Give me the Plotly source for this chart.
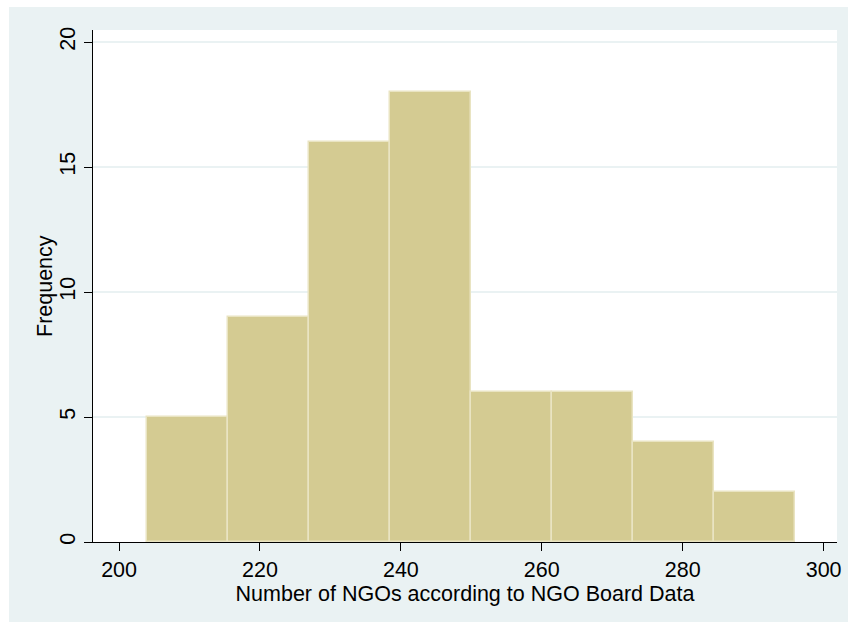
import numpy as np
import plotly.graph_objects as go

# Histogram of NGO counts: 8 equal-width bins starting at 204
bin_start = 204.0
bin_width = 11.5
counts = [5, 9, 16, 18, 6, 6, 4, 2]

x_ticks = [200, 220, 240, 260, 280, 300]
y_ticks = [0, 5, 10, 15, 20]

centers = bin_start + bin_width * (np.arange(len(counts)) + 0.5)

W, H = 848, 622
L, R, T, B = 93, 11, 30, 80
pw, ph = W - L - R, H - T - B

BG = "#EAF2F3"
FILL = "#D4CB92"
EDGE = "#E9E4C2"
FONT = "Liberation Sans, Arial, sans-serif"
FS = 21.5

fig = go.Figure()
fig.add_trace(go.Bar(
    x=centers, y=counts, width=bin_width,
    marker=dict(color=FILL, line=dict(color=EDGE, width=1.5)),
    hoverinfo="skip",
))


def px_x(p):
    return (p - L) / pw


def px_y(p):
    return (H - B - p) / ph


# white margin strips around the tinted panel
for x0, x1, y0, y1 in [(0, 9, 0, H), (0, W, 0, 7)]:
    fig.add_shape(type="rect", xref="paper", yref="paper",
                  x0=px_x(x0), x1=px_x(x1), y0=px_y(y1), y1=px_y(y0),
                  fillcolor="white", line=dict(width=0), layer="above")

# vertical axis title
fig.add_annotation(text="Frequency", xref="paper", yref="paper",
                   x=px_x(45), y=0.5, xanchor="center", yanchor="middle",
                   textangle=-90, showarrow=False, font=dict(size=FS))

fig.update_layout(
    width=W, height=H,
    margin=dict(l=L, r=R, t=T, b=B, autoexpand=False),
    paper_bgcolor=BG, plot_bgcolor="white",
    showlegend=False, bargap=0,
    font=dict(family=FONT, size=FS, color="black"),
)
fig.update_xaxes(
    range=[196.3, 301.9], tickvals=x_ticks, ticks="outside", ticklen=8,
    tickcolor="black", showline=True, linecolor="black", linewidth=1,
    showgrid=False, zeroline=False,
    title=dict(text="Number of NGOs according to NGO Board Data",
               font=dict(size=FS), standoff=0),
    tickfont=dict(size=FS),
)
fig.update_yaxes(
    range=[0, 20.48], tickvals=y_ticks, ticks="outside", ticklen=8,
    tickcolor="black", showline=True, linecolor="black", linewidth=1,
    showgrid=True, gridcolor=BG, gridwidth=1.5, zeroline=False,
    tickangle=-90, tickfont=dict(size=FS), ticklabelstandoff=0,
)

fig.write_html("out.html")
